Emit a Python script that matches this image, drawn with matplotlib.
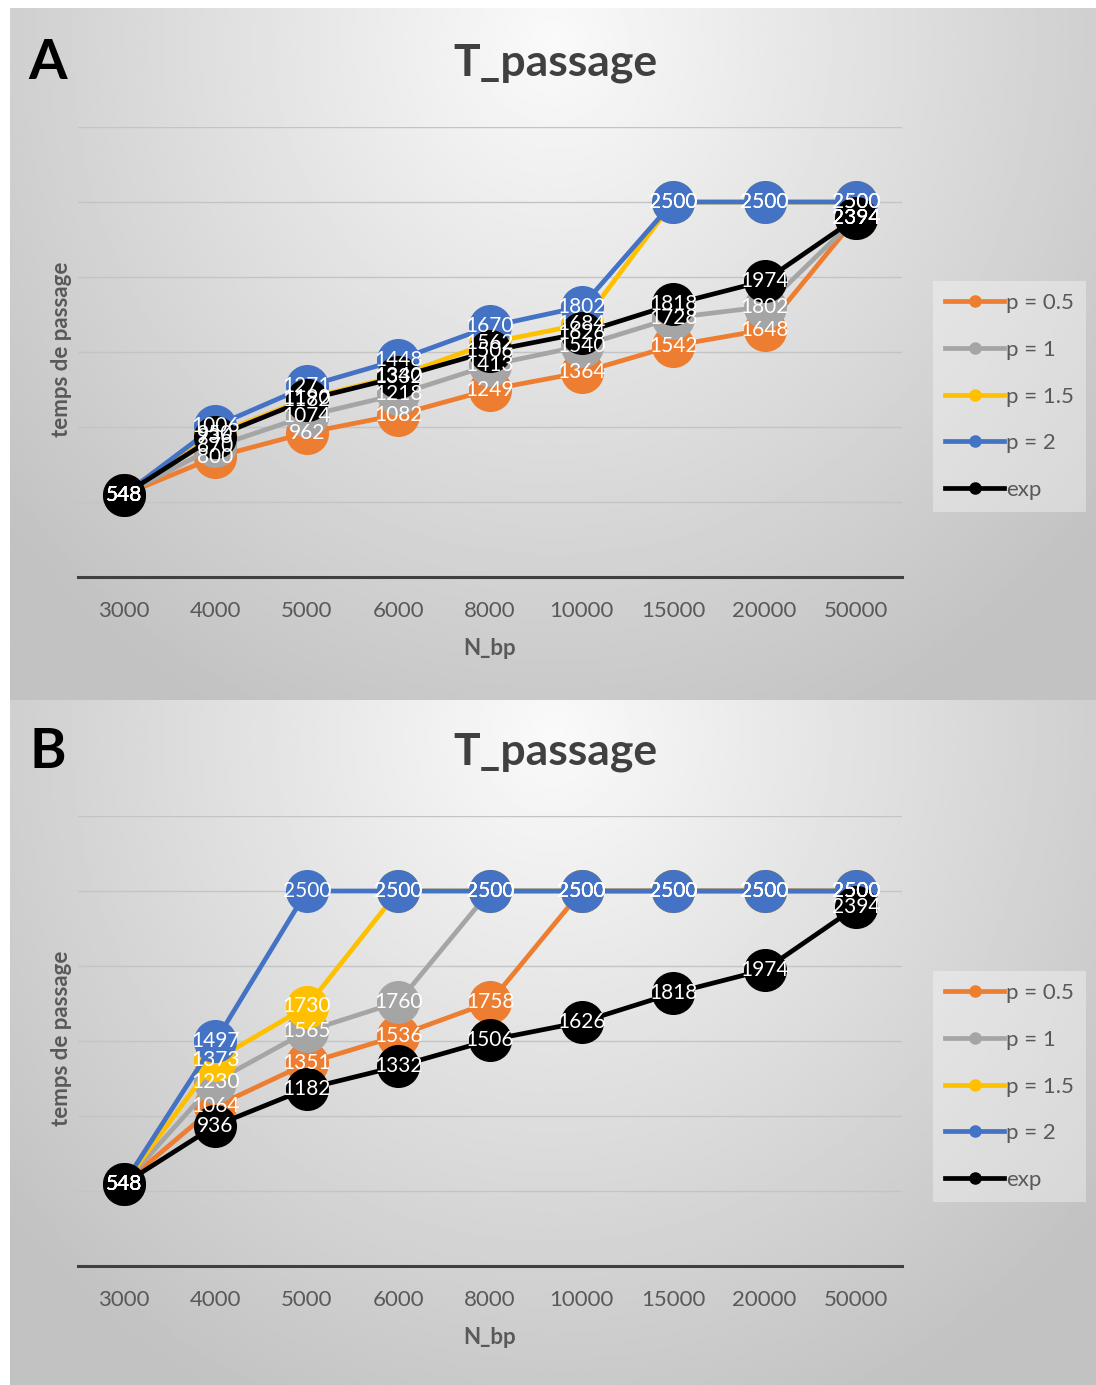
import numpy as np
import matplotlib.pyplot as plt
from matplotlib.lines import Line2D

plt.rcParams['font.family'] = ['Lato', 'DejaVu Sans']

W, H = 1096, 1385

# categories (x axis)
n_bp = ['3000', '4000', '5000', '6000', '8000', '10000', '15000', '20000', '50000']
series_names = ['p = 0.5', 'p = 1', 'p = 1.5', 'p = 2', 'exp']
colors = ['#ED7D31', '#A5A5A5', '#FFC000', '#4472C4', '#000000']

# panel A
a_p05 = [548, 800, 962, 1082, 1249, 1364, 1542, 1648, 2394]
a_p1 = [548, 870, 1074, 1218, 1413, 1540, 1728, 1802, 2394]
a_p15 = [548, 950, 1190, 1340, 1562, 1684, 2500, 2500, 2500]
a_p2 = [548, 1006, 1271, 1448, 1670, 1802, 2500, 2500, 2500]
a_exp = [548, 936, 1182, 1332, 1506, 1626, 1818, 1974, 2394]

# panel B
b_p05 = [548, 1064, 1351, 1536, 1758, 2500, 2500, 2500, 2500]
b_p1 = [548, 1230, 1565, 1760, 2500, 2500, 2500, 2500, 2500]
b_p15 = [548, 1373, 1730, 2500, 2500, 2500, 2500, 2500, 2500]
b_p2 = [548, 1497, 2500, 2500, 2500, 2500, 2500, 2500, 2500]
b_exp = [548, 936, 1182, 1332, 1506, 1626, 1818, 1974, 2394]

fig = plt.figure(figsize=(W / 100, H / 100), dpi=100)


def gradient_bg(rect):
    # fond gris en dégradé radial (style Excel)
    bg = fig.add_axes(rect, zorder=-10)
    yy, xx = np.mgrid[0:1:300j, 0:1:300j]
    d = np.sqrt(((xx - 0.5) / 0.6) ** 2 + ((yy - 0.05) / 1.0) ** 2)
    v = np.clip(0.98 - 0.2 * d, 0.76, 1.0)
    bg.imshow(v, cmap='gray', vmin=0, vmax=1, aspect='auto', extent=[0, 1, 1, 0])
    bg.axis('off')


def panel(top_px, data, letter, legend_top_px):
    bottom_px = top_px + 450
    ax = fig.add_axes([78 / W, 1 - bottom_px / H, 824 / W, 450 / H])
    ax.patch.set_visible(False)
    x = np.arange(len(n_bp))
    for vals, c in zip(data, colors):
        ax.plot(x, vals, color=c, lw=3.4, marker='o', markersize=31,
                markeredgewidth=0, solid_capstyle='round', zorder=3)
    for vals in data:
        for xi, v in zip(x, vals):
            ax.text(xi, v, str(v), color='white', fontsize=15, ha='center',
                    va='center', zorder=5)
    ax.set_xlim(-0.5, len(n_bp) - 0.5)
    ax.set_ylim(0, 3000)
    ax.set_yticks(np.arange(500, 3001, 500))
    ax.set_yticklabels([])
    ax.tick_params(axis='y', length=0)
    ax.grid(axis='y', color='#c4c4c4', lw=1)
    ax.set_axisbelow(True)
    ax.set_xticks(x)
    ax.set_xticklabels(n_bp, fontsize=16, color='#595959')
    ax.tick_params(axis='x', length=0, pad=17)
    for s in ['top', 'left', 'right']:
        ax.spines[s].set_visible(False)
    ax.spines['bottom'].set_color('#404040')
    ax.spines['bottom'].set_linewidth(2.2)
    ax.set_xlabel('N_bp', fontsize=16, fontweight='bold', color='#595959')
    ax.xaxis.set_label_coords(0.5, -0.135)

    fig.text(62 / W, 1 - (top_px + 222) / H, 'temps de passage', rotation=90,
             ha='center', va='center', fontsize=16, fontweight='bold', color='#595959')
    fig.text(555 / W, 1 - (top_px - 64) / H, 'T_passage', ha='center', va='center',
             fontsize=32, fontweight='bold', color='#404040')
    fig.text(48 / W, 1 - (top_px - 64) / H, letter, ha='center', va='center',
             fontsize=40, fontweight='bold', color='black')

    handles = [Line2D([0], [0], color=c, lw=3.4, marker='o', markersize=8)
               for c in colors]
    leg = fig.legend(handles, series_names, loc='upper left',
                     bbox_to_anchor=(933 / W, 1 - legend_top_px / H),
                     borderaxespad=0, fontsize=16, frameon=True, fancybox=False,
                     handlelength=2.65, handletextpad=0.1, labelspacing=1.2,
                     borderpad=0.55)
    for t in leg.get_texts():
        t.set_color('#595959')
    leg.get_frame().set_facecolor('white')
    leg.get_frame().set_alpha(0.35)
    leg.get_frame().set_edgecolor('none')
    return ax


gradient_bg([10 / W, 1 - 700 / H, 1086 / W, 692 / H])
gradient_bg([10 / W, 0, 1086 / W, 685 / H])

panel(127, [a_p05, a_p1, a_p15, a_p2, a_exp], 'A', 281)
panel(816, [b_p05, b_p1, b_p15, b_p2, b_exp], 'B', 971)

plt.savefig('out.png', dpi=100)
